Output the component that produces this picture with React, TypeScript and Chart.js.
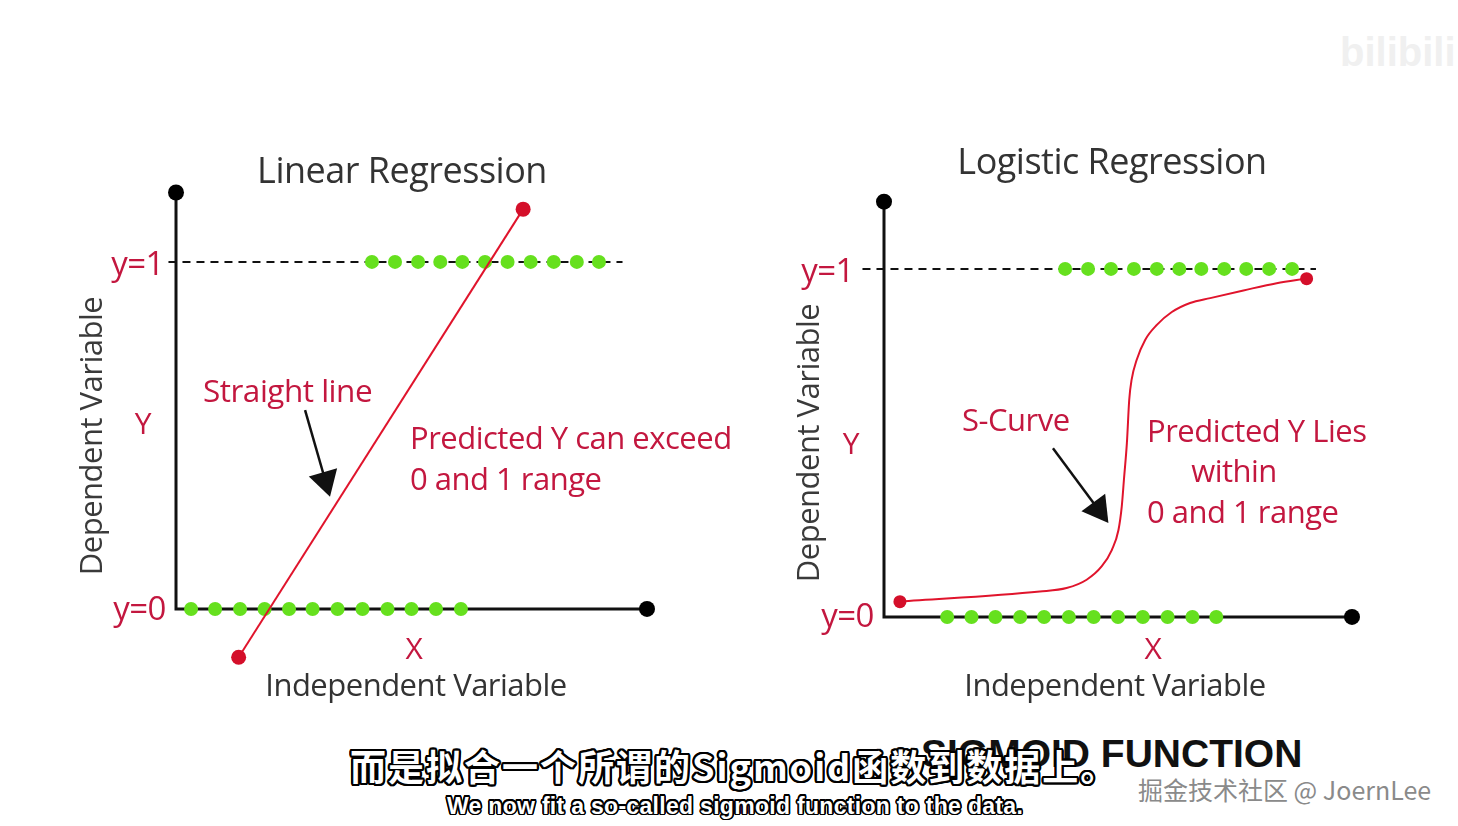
import React, { useEffect, useRef } from "react";
import { Chart, registerables } from "chart.js";

Chart.register(...registerables);

// ---------- Linear regression panel data ----------
const linAxisX = [0, 0, 10];
const linAxisY = [1.2, 0, 0];
const linThresholdX = [-0.16, 9.48];
const linOnesX = [4.16, 4.65, 5.14, 5.61, 6.08, 6.56, 7.04, 7.53, 8.02, 8.51, 8.98];
const linZerosX = [0.32, 0.83, 1.36, 1.88, 2.4, 2.9, 3.43, 3.96, 4.49, 5.0, 5.52, 6.05];
const linFitX = [1.33, 7.37];
const linFitY = [-0.139, 1.152];
const linArrowX = [2.74, 3.17];
const linArrowY = [0.573, 0.37];

// ---------- Logistic regression panel data ----------
const logAxisX = [0, 0, 10];
const logAxisY = [1.193, 0, 0];
const logThresholdX = [-0.46, 9.23];
const logOnesX = [3.87, 4.36, 4.85, 5.34, 5.83, 6.31, 6.78, 7.27, 7.74, 8.23, 8.72];
const logZerosX = [1.35, 1.87, 2.38, 2.91, 3.42, 3.95, 4.48, 5.0, 5.53, 6.06, 6.59, 7.1];
const logCurveX = [0.34, 3.33, 3.9, 4.33, 4.65, 4.87, 5.01, 5.08, 5.13, 5.19, 5.24, 5.29, 5.4, 5.58, 5.83, 6.15, 6.54, 6.97, 7.68, 8.39, 9.03];
const logCurveY = [0.044, 0.073, 0.083, 0.107, 0.145, 0.193, 0.25, 0.317, 0.4, 0.5, 0.624, 0.681, 0.739, 0.796, 0.839, 0.876, 0.902, 0.916, 0.938, 0.959, 0.972];
const logArrowX = [3.61, 4.58];
const logArrowY = [0.485, 0.309];

const GREEN = "#66e01e";
const RED_LINE = "#e0142c";
const RED_DOT = "#d40f2a";
const BLACK = "#111111";
const TEXT_RED = "#c3173f";
const TEXT_GREY = "#3a3a3a";

const pts = (xs: number[], ys: number[]) => xs.map((x, i) => ({ x, y: ys[i] }));
const flat = (xs: number[], y: number) => xs.map((x) => ({ x, y }));

function buildDatasets(p: {
  axisX: number[]; axisY: number[]; thrX: number[]; ones: number[]; zeros: number[];
  fitX: number[]; fitY: number[]; arrX: number[]; arrY: number[]; rot: number;
  curved: boolean; endR: number;
}): any[] {
  const n = p.fitX.length;
  return [
    {
      label: "fit",
      data: pts(p.fitX, p.fitY),
      showLine: true,
      borderColor: RED_LINE,
      borderWidth: 2,
      cubicInterpolationMode: p.curved ? "monotone" : "default",
      pointRadius: (c: any) => (c.dataIndex === 0 || c.dataIndex === n - 1 ? p.endR : 0),
      pointBackgroundColor: RED_DOT,
      pointBorderWidth: 0,
      order: 0,
    },
    {
      label: "arrowShaft",
      data: pts(p.arrX, p.arrY),
      showLine: true,
      borderColor: BLACK,
      borderWidth: 2.5,
      pointRadius: 0,
      order: 1,
    },
    {
      label: "arrowHead",
      data: [{ x: p.arrX[1], y: p.arrY[1] }],
      pointStyle: "triangle",
      rotation: p.rot,
      pointRadius: 17,
      pointBackgroundColor: BLACK,
      pointBorderWidth: 0,
      order: 1,
    },
    {
      label: "ones",
      data: flat(p.ones, 1),
      pointRadius: 7,
      pointBackgroundColor: GREEN,
      pointBorderWidth: 0,
      order: 2,
    },
    {
      label: "zeros",
      data: flat(p.zeros, 0),
      pointRadius: 7,
      pointBackgroundColor: GREEN,
      pointBorderWidth: 0,
      order: 2,
    },
    {
      label: "threshold",
      data: flat(p.thrX, 1),
      showLine: true,
      borderColor: BLACK,
      borderWidth: 2,
      borderDash: [8, 6],
      pointRadius: 0,
      order: 3,
    },
    {
      label: "axes",
      data: pts(p.axisX, p.axisY),
      showLine: true,
      borderColor: BLACK,
      borderWidth: 3,
      pointRadius: [8, 0, 8],
      pointBackgroundColor: "#000",
      pointBorderWidth: 0,
      order: 4,
    },
  ];
}

type Box = { left: number; top: number; width: number; height: number };

function Plot({ box, datasets, xr, yr }: { box: Box; datasets: any[]; xr: number[]; yr: number[] }) {
  const ref = useRef<HTMLCanvasElement>(null);
  useEffect(() => {
    const chart = new Chart(ref.current as HTMLCanvasElement, {
      type: "scatter",
      data: { datasets },
      options: {
        animation: false,
        responsive: false,
        maintainAspectRatio: false,
        events: [],
        layout: { padding: 0, autoPadding: false } as any,
        plugins: {
          legend: { display: false },
          tooltip: { enabled: false },
          title: { display: false },
        },
        scales: {
          x: { type: "linear", min: xr[0], max: xr[1], display: false },
          y: { type: "linear", min: yr[0], max: yr[1], display: false },
        },
      } as any,
    });
    return () => chart.destroy();
  }, []);
  return (
    <canvas
      ref={ref}
      width={box.width}
      height={box.height}
      style={{ position: "absolute", left: box.left, top: box.top, width: box.width, height: box.height }}
    />
  );
}

const FONT = "'Open Sans', 'Noto Sans', sans-serif";

function T({
  x, y, children, size = 31, color = TEXT_RED, align = "left", rotate = 0, weight = 400, family = FONT, extra = {},
}: any) {
  const tx = align === "center" ? "-50%" : align === "right" ? "-100%" : "0";
  return (
    <div
      style={{
        position: "absolute",
        left: x,
        top: y,
        transform: `translate(${tx}, -50%)` + (rotate ? ` rotate(${rotate}deg)` : ""),
        fontFamily: family,
        fontSize: size,
        fontWeight: weight,
        color,
        lineHeight: 1,
        whiteSpace: "nowrap",
        letterSpacing: family === FONT ? "-0.5px" : undefined,
        ...extra,
      }}
    >
      {children}
    </div>
  );
}

const outline = (w: number, c: string) => {
  const s: string[] = [];
  for (let a = 0; a < 16; a++) {
    const t = (a / 16) * Math.PI * 2;
    s.push(`${(Math.cos(t) * w).toFixed(2)}px ${(Math.sin(t) * w).toFixed(2)}px 0 ${c}`);
  }
  return s.join(",");
};

export default function App() {
  const leftBox: Box = { left: 60, top: 130, width: 700, height: 590 };
  const rightBox: Box = { left: 770, top: 130, width: 688, height: 590 };

  const leftSets = buildDatasets({
    axisX: linAxisX, axisY: linAxisY, thrX: linThresholdX, ones: linOnesX, zeros: linZerosX,
    fitX: linFitX, fitY: linFitY, arrX: linArrowX, arrY: linArrowY, rot: 164, curved: false, endR: 7.5,
  });
  const rightSets = buildDatasets({
    axisX: logAxisX, axisY: logAxisY, thrX: logThresholdX, ones: logOnesX, zeros: logZerosX,
    fitX: logCurveX, fitY: logCurveY, arrX: logArrowX, arrY: logArrowY, rot: 143.7, curved: true, endR: 6.5,
  });

  return (
    <div
      style={{
        position: "absolute",
        left: 0,
        top: 0,
        width: 1458,
        height: 826,
        background: "#fff",
        overflow: "hidden",
      }}
    >
      <Plot box={leftBox} datasets={leftSets} xr={[-2.463, 12.399]} yr={[-0.32, 1.38]} />
      <Plot box={rightBox} datasets={rightSets} xr={[-2.436, 12.265]} yr={[-0.296, 1.399]} />

      {/* Left panel text */}
      <T x={402} y={170} size={36} color="#333" align="center">Linear Regression</T>
      <T x={164} y={262} size={33} align="right">y=1</T>
      <T x={166} y={607} size={33} align="right">y=0</T>
      <T x={143} y={423} size={30} align="center">Y</T>
      <T x={90} y={436} size={31} color={TEXT_GREY} align="center" rotate={-90}>Dependent Variable</T>
      <T x={414} y={648} size={30} align="center">X</T>
      <T x={416} y={684} size={31} color="#333" align="center">Independent Variable</T>
      <T x={203} y={390} size={31.5}>Straight line</T>
      <T x={410} y={437}>Predicted Y can exceed</T>
      <T x={410} y={478}>0 and 1 range</T>

      {/* Right panel text */}
      <T x={1112} y={161} size={36} color="#333" align="center">Logistic Regression</T>
      <T x={854} y={269} size={33} align="right">y=1</T>
      <T x={874} y={614} size={33} align="right">y=0</T>
      <T x={851} y={443} size={30} align="center">Y</T>
      <T x={807} y={443} size={31} color={TEXT_GREY} align="center" rotate={-90}>Dependent Variable</T>
      <T x={1153} y={648} size={30} align="center">X</T>
      <T x={1115} y={684} size={31} color="#333" align="center">Independent Variable</T>
      <T x={962} y={419}>S-Curve</T>
      <T x={1147} y={430}>Predicted Y Lies</T>
      <T x={1234} y={470} align="center">within</T>
      <T x={1147} y={511}>0 and 1 range</T>

      {/* Bottom overlays */}
      <T x={921} y={753} size={39} weight={700} color="#111" family="'Liberation Sans', Arial, sans-serif">
        SIGMOID FUNCTION
      </T>
      <T
        x={350}
        y={765}
        size={36}
        weight={700}
        color="#fff"
        family="'Noto Sans CJK SC', sans-serif"
        extra={{ textShadow: outline(2.2, "#000"), letterSpacing: "2px" }}
      >
        而是拟合一个所谓的Sigmoid函数到数据上。
      </T>
      <T
        x={735}
        y={806}
        size={23}
        weight={700}
        color="#fff"
        align="center"
        family="'Liberation Sans', Arial, sans-serif"
        extra={{ textShadow: outline(1.6, "#000"), letterSpacing: "0.3px" }}
      >
        We now fit a so-called sigmoid function to the data.
      </T>
      <T x={1138} y={789} size={25} color="#8a8a8a" family="'Noto Sans CJK SC', sans-serif">
        掘金技术社区 @ JoernLee
      </T>
      <T x={1340} y={52} size={40} weight={700} color="#f0f0f0" family="'Liberation Sans', Arial, sans-serif">
        bilibili
      </T>
    </div>
  );
}
